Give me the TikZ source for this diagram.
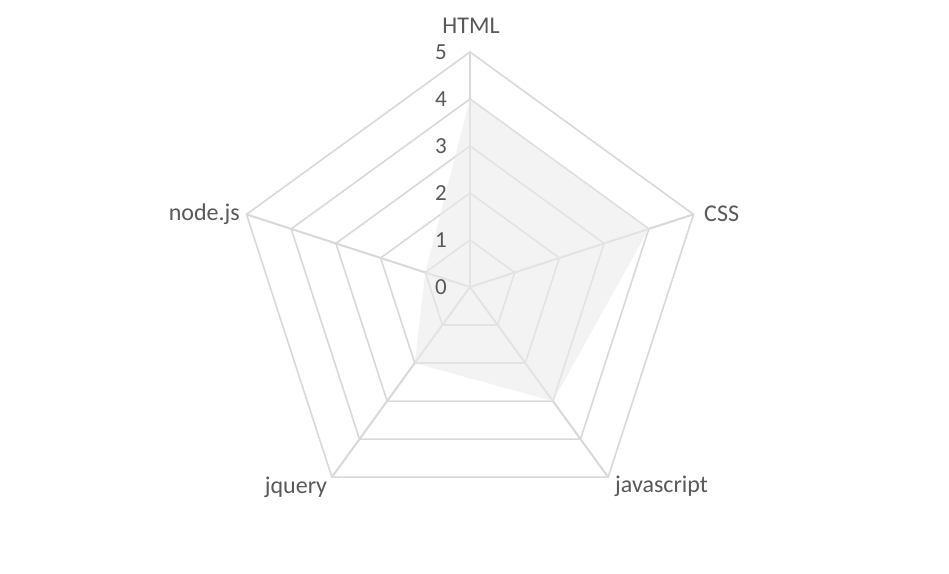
\documentclass[tikz,border=0pt]{standalone}
\usepackage{fontspec}
\setmainfont{Carlito}
\definecolor{gridc}{HTML}{D9D9D9}
\definecolor{txtc}{HTML}{595959}
\definecolor{areac}{HTML}{EBEBEB}
\begin{document}
\begin{tikzpicture}[x=1pt,y=1pt,
  gridline/.style={draw=gridc,line width=1.6pt,line join=miter},
  spoke/.style={draw=gridc,line width=2pt},
  lab/.style={text=txtc,font=\fontsize{24}{28}\selectfont,inner sep=0pt},
  num/.style={text=txtc,font=\fontsize{23}{27}\selectfont,inner sep=0pt},
  area/.style={fill=areac,fill opacity=0.6,draw=none}]
\useasboundingbox (0,0) rectangle (949,573);
\fill[white] (0,0) rectangle (949,573);
\begin{scope}[shift={(470,286)}]
  \coordinate (O) at (0,0);
  \foreach \r in {1,...,5}{
    \draw[gridline] (90:47*\r pt) -- (18:47*\r pt) -- (-54:47*\r pt) -- (-126:47*\r pt) -- (162:47*\r pt) -- cycle;
  }
  \foreach \a/\n in {90/h,18/c,-54/j,-126/q,162/n}{
    \coordinate (e\n) at (\a:235pt);
    \draw[spoke] (O) -- (e\n);
  }
  \fill[area] (90:188pt) -- (18:188pt) -- (-54:141pt) -- (-126:94pt) -- (162:47pt) -- cycle;
\end{scope}
\foreach \r in {0,...,5}{
  \node[num] (t\r) at (441,286+47*\r) {\r};
}
\node[lab] (lhtml) at (471,547) {HTML};
\node[lab,anchor=west] (lcss) at (704,359) {CSS};
\node[lab,anchor=east] (lnode) at (240,359) {node.js};
\node[lab] (ljq) at (296,86) {jquery};
\node[lab,anchor=west] (ljs) at (615,87) {javascript};
\end{tikzpicture}
\end{document}
